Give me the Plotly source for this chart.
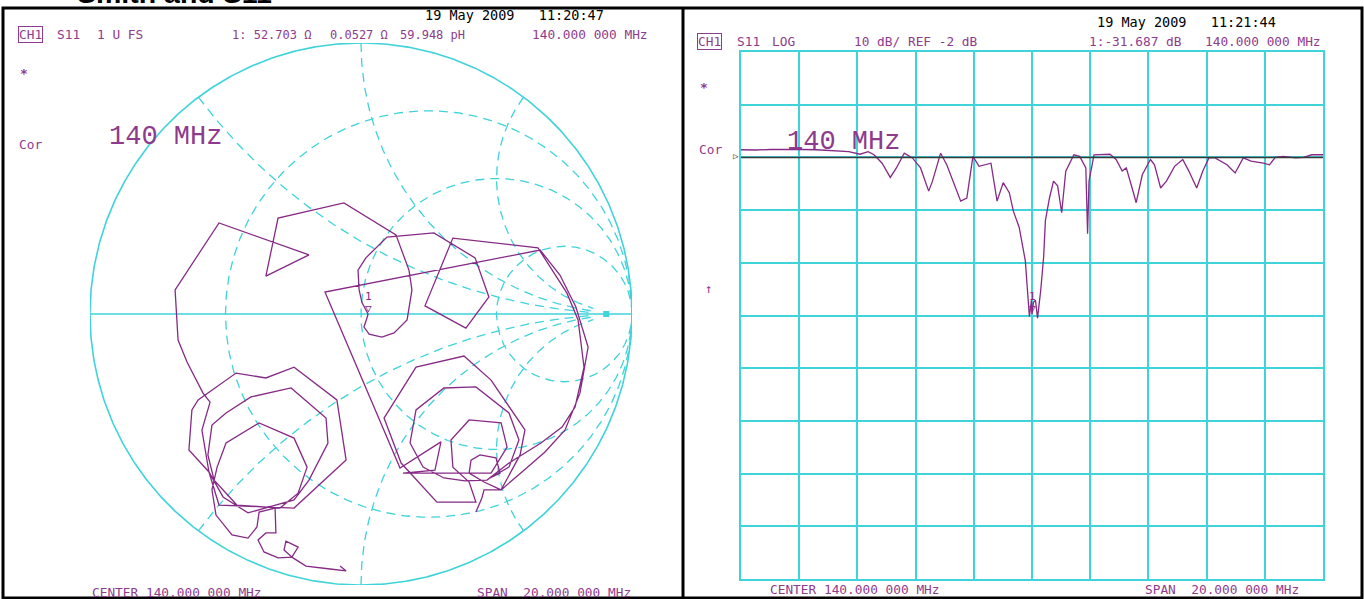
import numpy as np
import plotly.graph_objects as go

# ---------------- data: Smith chart trace (reflection coefficient) ----------------
smith_re = [
    -0.077, -0.055, -0.114, -0.203, -0.251, -0.284, -0.277, -0.232, -0.255, -0.306,
    -0.358, -0.380, -0.351, -0.314, -0.317, -0.376, -0.384, -0.417, -0.476, -0.535,
    -0.550, -0.531, -0.498, -0.376, -0.247, -0.199, -0.232, -0.299, -0.458, -0.542,
    -0.565, -0.550, -0.498, -0.406, -0.258, -0.129, -0.122, -0.192, -0.247, -0.417,
    -0.509, -0.561, -0.635, -0.624, -0.601, -0.461, -0.351, -0.247, -0.089, -0.055,
    -0.247, -0.524, -0.561, -0.587, -0.557, -0.583, -0.642, -0.675, -0.686, -0.524,
    -0.192, -0.351, -0.306, -0.063, 0.129, 0.177, 0.188, 0.170, 0.122, 0.077,
    0.030, 0.011, 0.022, 0.026, 0.004, -0.007, -0.011, 0.018, 0.096, 0.269,
    0.421, 0.472, 0.387, 0.236, 0.339, 0.653, 0.760, 0.801, 0.823, 0.790,
    0.742, 0.664, 0.546, 0.465, 0.384, 0.306, 0.229, 0.181, 0.203, 0.306,
    0.424, 0.546, 0.583, 0.546, 0.476, 0.513, 0.498, 0.439, 0.406, 0.399,
    0.454, 0.517, 0.594, 0.679, 0.753, 0.808, 0.838, 0.793, 0.734, 0.661,
    -0.133, 0.144, 0.295, 0.273, 0.155, 0.480, 0.539, 0.517, 0.399, 0.332,
    0.339, 0.399, 0.424, 0.280, 0.148, 0.085, 0.203, 0.380, 0.480, 0.605,
    0.587, 0.517, 0.454, 0.446, 0.424,
]
smith_im = [
    -0.930, -0.948, -0.941, -0.930, -0.900, -0.871, -0.838, -0.860, -0.897, -0.900,
    -0.878, -0.834, -0.808, -0.808, -0.716, -0.731, -0.786, -0.827, -0.815, -0.742,
    -0.649, -0.565, -0.476, -0.402, -0.458, -0.565, -0.661, -0.716, -0.705, -0.613,
    -0.520, -0.410, -0.365, -0.306, -0.273, -0.384, -0.476, -0.613, -0.686, -0.734,
    -0.675, -0.583, -0.502, -0.354, -0.317, -0.218, -0.236, -0.196, -0.317, -0.539,
    -0.716, -0.705, -0.583, -0.428, -0.325, -0.292, -0.177, -0.096, 0.089, 0.336,
    0.218, 0.140, 0.354, 0.410, 0.292, 0.162, 0.089, -0.022, -0.070, -0.085,
    -0.074, -0.048, -0.015, 0.000, 0.041, 0.089, 0.162, 0.207, 0.284, 0.299,
    0.207, 0.063, -0.052, 0.030, 0.280, 0.244, 0.077, -0.022, -0.196, -0.343,
    -0.417, -0.476, -0.550, -0.613, -0.616, -0.605, -0.565, -0.476, -0.354, -0.273,
    -0.269, -0.365, -0.465, -0.565, -0.605, -0.587, -0.531, -0.520, -0.539, -0.587,
    -0.620, -0.649, -0.583, -0.509, -0.428, -0.292, -0.122, 0.026, 0.144, 0.236,
    0.081, -0.568, -0.472, -0.576, -0.587, -0.587, -0.491, -0.402, -0.391, -0.465,
    -0.565, -0.620, -0.694, -0.694, -0.550, -0.384, -0.196, -0.155, -0.244, -0.428,
    -0.520, -0.649, -0.649, -0.679, -0.731,
]
smith_marker_re = [0.026]
smith_marker_im = [0.0]

# ---------------- data: log-magnitude trace ----------------
freq_mhz = [
    130.0, 130.5, 131.0, 131.5, 132.1, 132.6, 133.1, 133.7, 134.09, 134.37,
    134.57, 134.85, 135.13, 135.34, 135.61, 135.89, 136.17, 136.45, 136.58, 136.86,
    137.07, 137.28, 137.55, 137.76, 137.97, 138.18, 138.39, 138.59, 138.8, 139.01,
    139.22, 139.36, 139.56, 139.77, 139.91, 139.98, 140.0, 140.05, 140.12, 140.19,
    140.3, 140.4, 140.46, 140.6, 140.74, 140.88, 141.02, 141.16, 141.44, 141.64,
    141.85, 141.91, 141.96, 142.13, 142.68, 142.89, 143.1, 143.24, 143.44, 143.58,
    143.79, 144.07, 144.21, 144.42, 144.62, 144.9, 145.18, 145.39, 145.66, 145.87,
    146.08, 146.29, 146.7, 146.98, 147.26, 147.53, 147.95, 148.16, 148.36, 148.64,
    149.06, 149.33, 149.61, 150.0,
]
s11_db = [
    -0.55, -0.6, -0.5, -0.45, -0.5, -0.55, -0.7, -0.9, -1.4, -0.9,
    -1.5, -3.1, -5.8, -4.0, -1.2, -2.1, -4.0, -8.4, -6.5, -1.2,
    -3.4, -6.5, -10.3, -9.7, -1.8, -3.7, -3.4, -3.1, -10.3, -6.8,
    -8.7, -12.2, -15.3, -21.6, -32.2, -29.1, -31.69, -29.5, -29.1, -32.5,
    -27.2, -20.9, -14.0, -9.7, -6.5, -7.4, -12.5, -4.6, -1.5, -1.8,
    -4.0, -16.5, -6.5, -1.5, -1.4, -2.4, -4.6, -4.0, -7.8, -10.6,
    -5.3, -2.4, -3.4, -7.8, -6.5, -3.7, -2.4, -4.6, -7.8, -4.6,
    -2.1, -2.1, -3.4, -4.95, -2.1, -2.7, -3.1, -3.4, -2.0, -1.8,
    -2.1, -2.0, -1.5, -1.5,
]
log_marker_freq = [140.0]
log_marker_db = [-31.687]

# graticule definition
r_circles = [1 / 3, 1, 3]
x_arcs = [0.5, 1, 2]
ref_level_db = -2
db_per_div = 10
f_start, f_stop = 130.0, 150.0

# ---------------- styling / layout helpers ----------------
W, H = 1364, 599
CYAN = "#3fd3da"
PURPLE = "#862a86"
TXT = "#8e3b8e"
MONO = "DejaVu Sans Mono"


def px(x):
    return x / W


def py(y):
    return 1 - y / H


fig = go.Figure()

# --- Smith chart graticule ---
dash = dict(color=CYAN, width=1.3, dash="9px,6px")
t = np.linspace(0, 2 * np.pi, 721)
fig.add_trace(go.Scatter(x=np.cos(t), y=np.sin(t), mode="lines",
                         line=dict(color=CYAN, width=1.6), hoverinfo="skip",
                         xaxis="x", yaxis="y"))
fig.add_trace(go.Scatter(x=[-1, 1], y=[0, 0], mode="lines",
                         line=dict(color=CYAN, width=1.5), hoverinfo="skip",
                         xaxis="x", yaxis="y"))
for r in r_circles:
    c = r / (1 + r)
    rad = 1 / (1 + r)
    fig.add_trace(go.Scatter(x=c + rad * np.cos(t), y=rad * np.sin(t), mode="lines",
                             line=dash, hoverinfo="skip", xaxis="x", yaxis="y"))
for xv in x_arcs:
    ex = (xv ** 2 - 1) / (xv ** 2 + 1)
    ey = 2 * xv / (xv ** 2 + 1)
    a0 = np.arctan2(ey - 1 / xv, ex - 1) % (2 * np.pi)
    th = np.linspace(a0, 1.5 * np.pi, 300)
    ax_ = 1 + np.cos(th) / xv
    ay_ = 1 / xv + np.sin(th) / xv
    keep = ax_ <= 0.86
    for s in (1, -1):
        fig.add_trace(go.Scatter(x=ax_[keep], y=s * ay_[keep], mode="lines",
                                 line=dash, hoverinfo="skip", xaxis="x", yaxis="y"))
# small reference blob on the real axis
fig.add_trace(go.Scatter(x=[0.905], y=[0], mode="markers",
                         marker=dict(symbol="square", size=6, color=CYAN),
                         hoverinfo="skip", xaxis="x", yaxis="y"))

# --- Smith trace ---
fig.add_trace(go.Scatter(x=smith_re, y=smith_im, mode="lines",
                         line=dict(color=PURPLE, width=1.3), hoverinfo="skip",
                         xaxis="x", yaxis="y"))

# --- Log magnitude trace ---
fig.add_trace(go.Scatter(x=freq_mhz, y=s11_db, mode="lines",
                         line=dict(color=PURPLE, width=1.3), hoverinfo="skip",
                         xaxis="x2", yaxis="y2"))

top_db = ref_level_db + 2 * db_per_div
bot_db = ref_level_db - 8 * db_per_div

axis_hidden = dict(visible=False, showgrid=False, zeroline=False)
grid_axis = dict(showgrid=True, gridcolor=CYAN, gridwidth=1.6, showline=True,
                 mirror=True, linecolor=CYAN, linewidth=1.6, showticklabels=False,
                 ticks="", zeroline=False)
fig.update_layout(
    width=W, height=H,
    margin=dict(l=0, r=0, t=0, b=0),
    paper_bgcolor="white", plot_bgcolor="rgba(0,0,0,0)",
    showlegend=False,
    xaxis=dict(domain=[px(90), px(632)], range=[-1, 1], anchor="y", **axis_hidden),
    yaxis=dict(domain=[py(585), py(43)], range=[-1, 1], anchor="x", **axis_hidden),
    xaxis2=dict(domain=[px(741), px(1323)], range=[f_start, f_stop], anchor="y2",
                tick0=f_start, dtick=(f_stop - f_start) / 10, **grid_axis),
    yaxis2=dict(domain=[py(579), py(52)], range=[bot_db, top_db], anchor="x2",
                tick0=ref_level_db, dtick=db_per_div, **grid_axis),
)

# reference line on the log plot
fig.add_shape(type="line", xref="x2", yref="y2", x0=f_start, x1=f_stop,
              y0=ref_level_db, y1=ref_level_db, line=dict(color="#3a3a3a", width=1.5))

# frame & divider
fig.add_shape(type="rect", xref="paper", yref="paper", x0=px(3), x1=px(1362),
              y0=py(598), y1=py(8), line=dict(color="black", width=3))
fig.add_shape(type="line", xref="paper", yref="paper", x0=px(683), x1=px(683),
              y0=py(598), y1=py(8), line=dict(color="black", width=3))


def txt(x, y, s, size=12.8, color=TXT, family=MONO, **kw):
    fig.add_annotation(x=px(x), y=py(y), xref="paper", yref="paper", text=s,
                       showarrow=False, xanchor="left", yanchor="middle",
                       font=dict(size=size, color=color, family=family), **kw)


# title (cut off at top)
txt(75, -7, "<b>Smith and S11</b>", size=28.5, color="black", family="Liberation Sans")

# left header
txt(423, 15, "19 May 2009   11:20:47", size=13.5, color="black")
txt(18, 35, "CH1", bordercolor=TXT, borderwidth=1, borderpad=0)
txt(55, 35, "S11")
txt(95, 35, "1 U FS")
txt(230, 35, "1: 52.703 Ω", size=12)
txt(328, 35, "0.0527 Ω", size=12)
txt(398, 35, "59.948 pH", size=12)
txt(530, 35, "140.000 000 MHz")
txt(18, 74, "<b>*</b>", size=13)
txt(17, 144, "Cor")
txt(107, 137, "140 MHz", size=27, family="Liberation Mono")
txt(90, 592, "CENTER 140.000 000 MHz")
txt(475, 592, "SPAN  20.000 000 MHz")

# right header
txt(1095, 22, "19 May 2009   11:21:44", size=13.5, color="black")
txt(697, 42, "CH1", bordercolor=TXT, borderwidth=1, borderpad=0)
txt(735, 42, "S11")
txt(770, 42, "LOG")
txt(852, 42, "10 dB/ REF -2 dB")
txt(1087, 42, "1:-31.687 dB")
txt(1203, 42, "140.000 000 MHz")
txt(698, 88, "<b>*</b>", size=13)
txt(697, 149, "Cor")
txt(703, 288, "↑")
txt(785, 142, "140 MHz", size=27, family="Liberation Mono")
txt(731, 156, "▷", size=9, color="#3a3a3a")
txt(768, 589, "CENTER 140.000 000 MHz")
txt(1143, 589, "SPAN  20.000 000 MHz")

# markers "1"
for (xr, yr, mx, my) in [("x", "y", smith_marker_re[0], smith_marker_im[0]),
                         ("x2", "y2", log_marker_freq[0], log_marker_db[0])]:
    fig.add_annotation(x=mx, y=my, xref=xr, yref=yr, text="▽", showarrow=False,
                       xanchor="center", yanchor="bottom", yshift=-3,
                       font=dict(size=11, color=PURPLE, family=MONO))
    fig.add_annotation(x=mx, y=my, xref=xr, yref=yr, text="1", showarrow=False,
                       xanchor="center", yanchor="bottom", yshift=9,
                       font=dict(size=11, color=PURPLE, family=MONO))

# remove the default page margin so the figure fills the window exactly
fig.write_html("out.html",
               config={"displayModeBar": False},
               post_script="document.body.style.margin='0';document.body.style.overflow='hidden';")
